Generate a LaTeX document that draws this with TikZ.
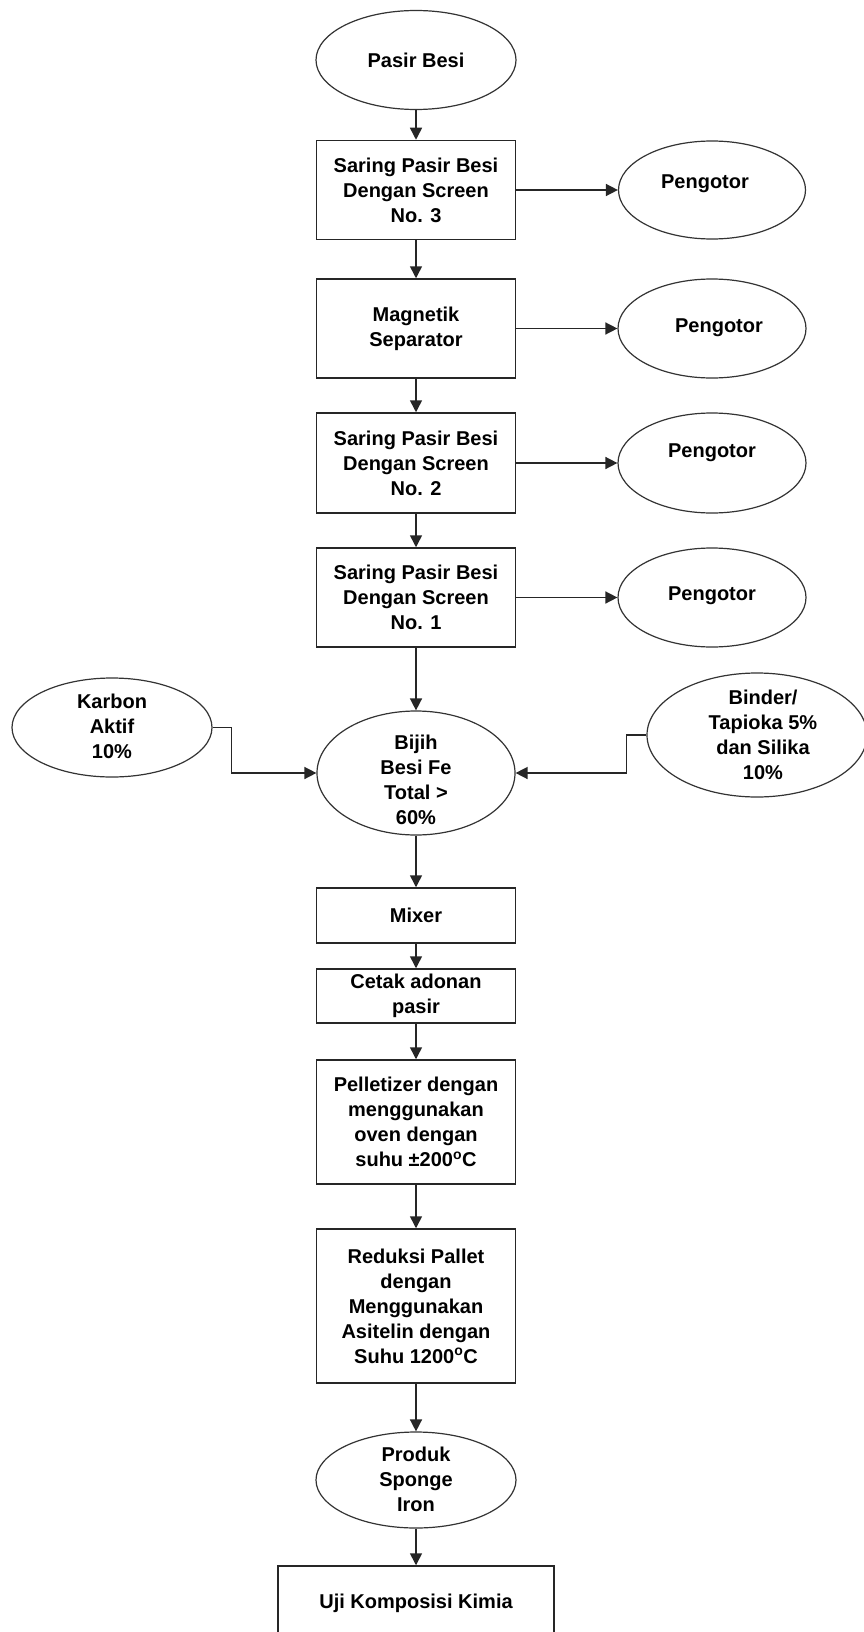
\documentclass[tikz,border=0pt]{standalone}
\usepackage{fontspec}
\setmainfont{Liberation Sans}
\usetikzlibrary{shapes.geometric,arrows.meta}

\tikzset{
  lbl/.style={align=center,inner sep=0pt,text=black,
    font=\fontsize{20}{25}\selectfont\bfseries},
  procbox/.style={draw=black!85,line width=1.5pt,rectangle,inner sep=0pt,
    minimum width=199pt,align=center,
    font=\fontsize{20}{25}\selectfont\bfseries},
  oval/.style={draw=black!80,line width=1.2pt,ellipse,inner sep=0pt},
  flow/.style={draw=black!85,line width=1.5pt,-{Triangle[length=12pt,width=12pt]}},
}

\begin{document}
\begin{tikzpicture}[x=1pt,y=-1pt]
\path[use as bounding box,fill=white] (0,0) rectangle (864,1632);
\clip (0,0) rectangle (864,1632);

% main column
\node[oval,minimum width=200pt,minimum height=99pt] (pasir) at (416,60) {};
\node[lbl] (tpasir) at (416,60) {Pasir Besi};

\node[procbox,minimum height=99pt] (s3) at (416,190)
  {Saring Pasir Besi\\Dengan Screen\\No. 3};
\node[procbox,minimum height=99pt] (mag) at (416,328.5)
  {Magnetik\\Separator};
\node[procbox,minimum height=100pt] (s2) at (416,463)
  {Saring Pasir Besi\\Dengan Screen\\No. 2};
\node[procbox,minimum height=99pt] (s1) at (416,597.5)
  {Saring Pasir Besi\\Dengan Screen\\No. 1};

% impurities removed at each stage
\node[oval,minimum width=187pt,minimum height=98pt] (p1) at (712,190) {};
\node[lbl] (tp1) at (705,184) {Pengotor};
\node[oval,minimum width=188pt,minimum height=99pt] (p2) at (712,328.5) {};
\node[lbl] (tp2) at (719,328) {Pengotor};
\node[oval,minimum width=188pt,minimum height=100pt] (p3) at (712,463) {};
\node[lbl] (tp3) at (712,453) {Pengotor};
\node[oval,minimum width=188pt,minimum height=99pt] (p4) at (712,597.5) {};
\node[lbl] (tp4) at (712,596) {Pengotor};

% mixing inputs
\node[oval,minimum width=200pt,minimum height=99pt] (karbon) at (112,727.5) {};
\node[lbl] (tkarbon) at (112,726) {Karbon\\Aktif\\10\%};
\node[oval,minimum width=198pt,minimum height=124pt] (bijih) at (416,773) {};
\node[lbl] (tbijih) at (416,780) {Bijih\\Besi Fe\\Total >\\60\%};
\node[oval,minimum width=220pt,minimum height=124pt] (binder) at (757,735) {};
\node[lbl] (tbinder) at (763,735) {Binder/\\Tapioka 5\%\\dan Silika\\10\%};

\node[procbox,minimum height=55pt] (mixer) at (416,915.5) {Mixer};
\node[procbox,minimum height=54pt] (cetak) at (416,996) {Cetak adonan\\pasir};
\node[procbox,minimum height=124pt] (pellet) at (416,1122)
  {Pelletizer dengan\\menggunakan\\oven dengan\\suhu ±200\textsuperscript{o}C};
\node[procbox,minimum height=154pt] (reduksi) at (416,1306)
  {Reduksi Pallet\\dengan\\Menggunakan\\Asitelin dengan\\Suhu 1200\textsuperscript{o}C};
\node[oval,minimum width=200pt,minimum height=96pt] (produk) at (416,1480) {};
\node[lbl] (tproduk) at (416,1479) {Produk\\Sponge\\Iron};
\node[procbox,minimum width=276pt,minimum height=74pt] (uji) at (416,1603)
  {Uji Komposisi Kimia};

% connectors
\draw[flow] (pasir.south) -- (s3.north);
\draw[flow] (s3.south) -- (mag.north);
\draw[flow] (mag.south) -- (s2.north);
\draw[flow] (s2.south) -- (s1.north);
\draw[flow] (s1.south) -- (bijih.north);
\draw[flow] (bijih.south) -- (mixer.north);
\draw[flow] (mixer.south) -- (cetak.north);
\draw[flow] (cetak.south) -- (pellet.north);
\draw[flow] (pellet.south) -- (reduksi.north);
\draw[flow] (reduksi.south) -- (produk.north);
\draw[flow] (produk.south) -- (uji.north);

\draw[flow] (s3.east) -- (p1.west);
\draw[flow] (mag.east) -- (p2.west);
\draw[flow] (s2.east) -- (p3.west);
\draw[flow] (s1.east) -- (p4.west);

\draw[flow] (karbon.east) -- ++(19,0) |- (bijih.west);
\draw[flow] (binder.west) -- ++(-20,0) |- (bijih.east);
\end{tikzpicture}
\end{document}
